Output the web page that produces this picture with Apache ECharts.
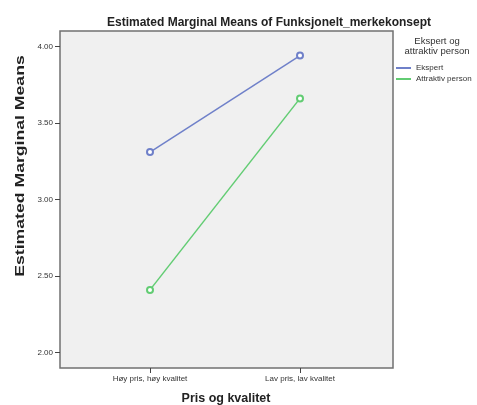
<!DOCTYPE html>
<html>
<head>
<meta charset="utf-8">
<script src="https://cdn.jsdelivr.net/npm/echarts@6/dist/echarts.min.js"></script>
<style>
  html, body { margin: 0; padding: 0; background: #fff; }
  #chart { width: 477px; height: 405px; }
</style>
</head>
<body>
<div id="chart"></div>
<script>
// kategorier på x-aksen
var categories = ["Høy pris, høy kvalitet", "Lav pris, lav kvalitet"];
// estimerte marginale gjennomsnitt
var ekspert = [3.31, 3.94];
var attraktiv = [2.41, 3.66];
var yTicks = [2.0, 2.5, 3.0, 3.5, 4.0];
var seriesNames = ["Ekspert", "Attraktiv person"];

var font = "'Liberation Sans', Arial, sans-serif";

function toPoints(arr) {
  return arr.map(function (v, i) { return [i, v]; });
}

var chart = echarts.init(document.getElementById("chart"));

var option = {
  backgroundColor: "#ffffff",
  animation: false,
  title: {
    text: "Estimated Marginal Means of Funksjonelt_merkekonsept",
    left: 264,
    top: 12,
    textAlign: "center",
    textStyle: {
      fontFamily: font,
      fontSize: 12,
      fontWeight: "bold",
      color: "#222"
    }
  },
  grid: {
    left: 60,
    right: 84,
    top: 31,
    bottom: 37,
    show: true,
    backgroundColor: "#f0f0f0",
    borderColor: "#707070",
    borderWidth: 1.5
  },
  legend: {
    orient: "vertical",
    left: 396,
    top: 63,
    padding: 0,
    itemGap: 1,
    itemWidth: 15,
    itemHeight: 2,
    icon: "rect",
    data: seriesNames,
    textStyle: {
      fontFamily: font,
      fontSize: 8,
      lineHeight: 10,
      color: "#333"
    }
  },
  xAxis: {
    type: "value",
    min: -0.6,
    max: 1.62,
    axisLine: { show: false, onZero: false },
    splitLine: { show: false },
    axisTick: {
      show: true,
      length: 5,
      customValues: [0, 1],
      lineStyle: { color: "#444" }
    },
    axisLabel: {
      customValues: [0, 1],
      margin: 7,
      fontFamily: font,
      fontSize: 8,
      color: "#333",
      formatter: function (v) { return categories[Math.round(v)]; }
    }
  },
  yAxis: {
    type: "value",
    min: 1.9,
    max: 4.1,
    axisLine: { show: false, onZero: false },
    splitLine: { show: false },
    axisTick: {
      show: true,
      length: 5,
      customValues: yTicks,
      lineStyle: { color: "#444" }
    },
    axisLabel: {
      customValues: yTicks,
      margin: 7,
      fontFamily: font,
      fontSize: 8,
      color: "#333",
      formatter: function (v) { return v.toFixed(2); }
    }
  },
  graphic: [
    {
      // y-aksetittel
      type: "text",
      x: 21,
      y: 166,
      rotation: Math.PI / 2,
      scaleX: 1.47,
      style: {
        text: "Estimated Marginal Means",
        font: "bold 12px " + font,
        fill: "#222",
        textAlign: "center",
        textVerticalAlign: "middle"
      }
    },
    {
      // x-aksetittel
      type: "text",
      x: 226,
      y: 399,
      style: {
        text: "Pris og kvalitet",
        font: "bold 12.5px " + font,
        fill: "#222",
        textAlign: "center",
        textVerticalAlign: "middle"
      }
    },
    {
      // legendetittel
      type: "text",
      x: 437,
      y: 46,
      style: {
        text: "Ekspert og\nattraktiv person",
        font: "9.5px " + font,
        lineHeight: 10,
        fill: "#333",
        textAlign: "center",
        textVerticalAlign: "middle"
      }
    }
  ],
  series: [
    {
      name: seriesNames[0],
      type: "line",
      data: toPoints(ekspert),
      symbol: "emptyCircle",
      symbolSize: 6,
      lineStyle: { color: "#6f80c9", width: 1.5 },
      itemStyle: { color: "#6f80c9", borderWidth: 1 }
    },
    {
      name: seriesNames[1],
      type: "line",
      data: toPoints(attraktiv),
      symbol: "emptyCircle",
      symbolSize: 6,
      lineStyle: { color: "#62cc73", width: 1.5 },
      itemStyle: { color: "#62cc73", borderWidth: 1 }
    }
  ]
};

chart.setOption(option);
</script>
</body>
</html>
